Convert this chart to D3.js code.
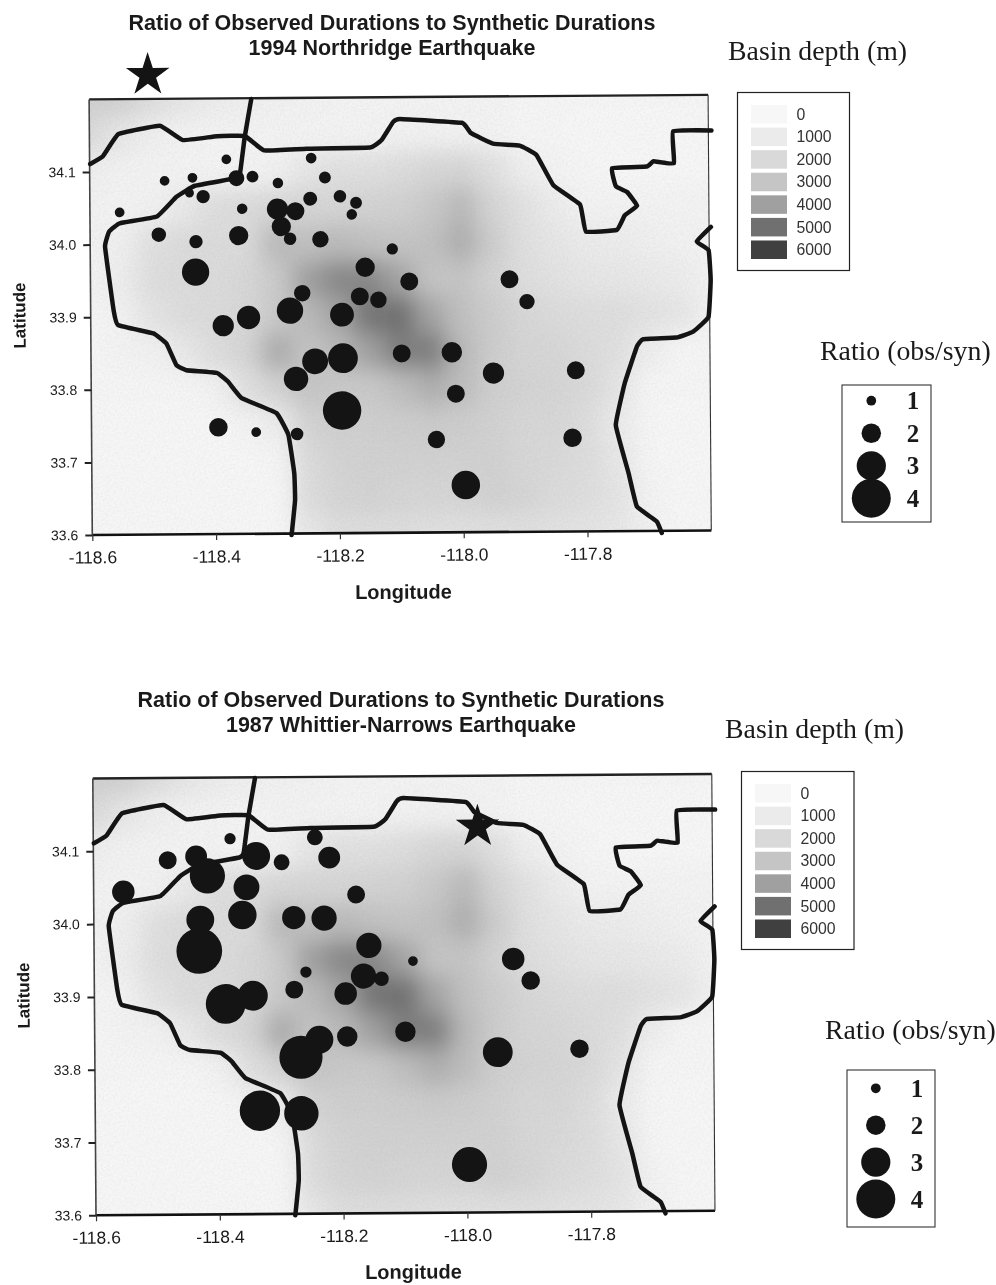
<!DOCTYPE html>
<html>
<head>
<meta charset="utf-8">
<script src="https://cdn.jsdelivr.net/npm/d3@7"></script>
<style>
  html, body { margin: 0; padding: 0; background: #fff; }
  svg { display: block; }
  text { fill: #1a1a1a; }
  .sans { font-family: "Liberation Sans", Arial, sans-serif; }
  .serif { font-family: "Liberation Serif", "Times New Roman", serif; }
</style>
</head>
<body>
<script>
const lonTicks = [-118.6, -118.4, -118.2, -118.0, -117.8]
const latTicks = [33.6, 33.7, 33.8, 33.9, 34.0, 34.1]
const depthLevels = [0, 1000, 2000, 3000, 4000, 5000, 6000]
const depthGreys = [247, 235, 217, 197, 160, 112, 64]
const ratioLevels = [1, 2, 3, 4]

const gridLons = [-118.6, -118.55, -118.5, -118.45, -118.4, -118.35, -118.3, -118.25, -118.2, -118.15, -118.1, -118.05, -118.0, -117.95, -117.9, -117.85, -117.8, -117.75, -117.7, -117.65, -117.6]
const gridLats = [34.2, 34.15, 34.1, 34.05, 34.0, 33.95, 33.9, 33.85, 33.8, 33.75, 33.7, 33.65, 33.6]
const depthGrid = [
    [2500, 2400, 1800, 1300, 900, 700, 500, 400, 300, 300, 300, 300, 300, 300, 200, 200, 200, 200, 200, 200, 200],
    [1900, 1200, 700, 400, 300, 300, 300, 300, 300, 300, 400, 500, 400, 300, 200, 200, 100, 100, 100, 100, 100],
    [700, 400, 300, 300, 300, 300, 500, 1300, 1600, 1600, 1800, 2100, 2200, 1600, 700, 300, 200, 100, 100, 100, 100],
    [400, 300, 500, 1100, 1700, 1900, 2100, 2200, 2200, 2300, 2400, 2800, 3300, 2200, 1500, 900, 300, 300, 300, 300, 300],
    [400, 700, 1600, 1900, 1900, 1900, 3300, 3100, 3300, 3100, 3000, 3100, 3600, 2600, 1600, 1300, 1000, 900, 700, 400, 300],
    [300, 800, 1700, 1900, 1900, 2100, 2700, 4000, 4500, 4500, 3900, 3000, 3000, 2300, 1700, 1500, 1300, 1200, 1100, 900, 400],
    [200, 400, 1400, 1800, 1900, 2100, 2800, 3300, 3900, 4900, 5000, 3900, 3100, 2600, 2100, 1900, 1700, 1700, 1500, 1300, 500],
    [200, 300, 400, 1100, 1800, 2200, 3700, 3000, 3300, 4000, 4700, 4700, 3300, 2600, 2200, 2100, 1900, 1600, 800, 200, 200],
    [200, 200, 200, 200, 400, 1600, 2300, 3000, 2800, 2800, 3200, 3600, 3200, 2500, 2300, 2200, 2000, 1400, 200, 200, 200],
    [100, 100, 100, 100, 100, 300, 800, 2300, 2500, 2500, 2600, 2700, 2600, 2400, 2100, 2100, 1800, 1000, 200, 100, 100],
    [100, 100, 100, 100, 100, 100, 200, 1900, 2300, 2400, 2400, 2400, 2400, 2400, 2100, 2000, 1800, 1200, 200, 100, 100],
    [100, 100, 100, 100, 100, 100, 100, 1800, 2200, 2300, 2200, 2200, 2200, 2400, 2200, 1900, 1700, 1400, 300, 100, 100],
    [100, 100, 100, 100, 100, 100, 100, 1200, 1700, 1700, 1700, 1600, 1600, 1600, 1600, 1500, 1400, 1200, 500, 100, 100]
]

// outlines of the map, lon/lat
const outlineNorth = [[-118.599, 34.111], [-118.578, 34.122], [-118.553, 34.152], [-118.486, 34.163], [-118.449, 34.143], [-118.394, 34.148], [-118.349, 34.148], [-118.318, 34.128], [-118.249, 34.130], [-118.147, 34.131], [-118.128, 34.141], [-118.109, 34.166], [-118.098, 34.170], [-117.998, 34.164], [-117.984, 34.150], [-117.948, 34.135], [-117.905, 34.132], [-117.878, 34.119], [-117.851, 34.077], [-117.808, 34.050], [-117.799, 34.013], [-117.749, 34.015], [-117.736, 34.035], [-117.716, 34.048], [-117.732, 34.067], [-117.750, 34.075], [-117.756, 34.100], [-117.700, 34.102], [-117.689, 34.109], [-117.656, 34.106], [-117.657, 34.150], [-117.595, 34.151]]
const outlineWest = [[-118.338, 34.199], [-118.349, 34.147], [-118.357, 34.097], [-118.364, 34.090], [-118.430, 34.080], [-118.460, 34.065], [-118.492, 34.038], [-118.552, 34.029], [-118.569, 34.018], [-118.576, 33.997], [-118.563, 33.910], [-118.556, 33.889], [-118.499, 33.877], [-118.478, 33.863], [-118.462, 33.833], [-118.446, 33.826], [-118.397, 33.822], [-118.379, 33.810], [-118.357, 33.787], [-118.301, 33.766], [-118.282, 33.736], [-118.273, 33.683], [-118.272, 33.646], [-118.278, 33.598]]
const outlineEast = [[-117.597, 34.018], [-117.620, 33.998], [-117.601, 33.986], [-117.598, 33.945], [-117.602, 33.894], [-117.627, 33.874], [-117.654, 33.866], [-117.708, 33.864], [-117.718, 33.854], [-117.738, 33.804], [-117.753, 33.746], [-117.733, 33.680], [-117.720, 33.634], [-117.688, 33.613], [-117.680, 33.597]]
const outlines = [outlineNorth, outlineWest, outlineEast]

// lon, lat, ratio
const northridgeStations = [
    [-118.379, 34.116, 1.0], [-118.242, 34.117, 1.1], [-118.479, 34.087, 1.0], [-118.434, 34.091, 1.0],
    [-118.439, 34.070, 0.92], [-118.417, 34.065, 1.37], [-118.363, 34.090, 1.63], [-118.337, 34.092, 1.22],
    [-118.296, 34.083, 1.08], [-118.220, 34.090, 1.22], [-118.244, 34.061, 1.43], [-118.196, 34.064, 1.29],
    [-118.170, 34.055, 1.22], [-118.177, 34.039, 1.08], [-118.552, 34.044, 1.0], [-118.354, 34.048, 1.08],
    [-118.297, 34.047, 2.18], [-118.268, 34.044, 1.84], [-118.291, 34.023, 1.98], [-118.277, 34.006, 1.29],
    [-118.228, 34.005, 1.69], [-118.489, 34.013, 1.49], [-118.429, 34.003, 1.37], [-118.360, 34.011, 1.98],
    [-118.112, 33.991, 1.16], [-118.156, 33.966, 1.98], [-118.430, 33.961, 2.8], [-118.258, 33.931, 1.69],
    [-118.165, 33.926, 1.84], [-118.135, 33.921, 1.69], [-118.278, 33.907, 2.71], [-118.194, 33.901, 2.45],
    [-118.345, 33.898, 2.39], [-118.386, 33.887, 2.18], [-118.085, 33.946, 1.84], [-117.923, 33.948, 1.84],
    [-117.895, 33.917, 1.57], [-118.098, 33.847, 1.84], [-118.017, 33.848, 2.1], [-117.950, 33.819, 2.18],
    [-117.817, 33.822, 1.84], [-118.238, 33.837, 2.65], [-118.193, 33.841, 3.06], [-118.269, 33.813, 2.51],
    [-118.195, 33.769, 3.94], [-118.395, 33.747, 1.9], [-118.334, 33.740, 1.0], [-118.268, 33.737, 1.29],
    [-118.011, 33.791, 1.84], [-118.043, 33.728, 1.78], [-117.823, 33.729, 1.9], [-117.996, 33.665, 2.92]
]
const whittierStations = [
    [-118.379, 34.116, 1.16], [-118.242, 34.117, 1.63], [-118.480, 34.087, 1.84], [-118.434, 34.092, 2.24],
    [-118.416, 34.065, 3.61], [-118.337, 34.092, 2.86], [-118.296, 34.083, 1.63], [-118.219, 34.089, 2.24],
    [-118.552, 34.044, 2.31], [-118.176, 34.038, 1.84], [-118.353, 34.049, 2.65], [-118.360, 34.011, 2.92],
    [-118.277, 34.007, 2.39], [-118.228, 34.006, 2.59], [-118.428, 34.005, 2.86], [-118.430, 33.962, 4.69],
    [-118.156, 33.968, 2.59], [-118.258, 33.932, 1.16], [-118.165, 33.926, 2.59], [-118.136, 33.922, 1.49],
    [-118.277, 33.908, 1.84], [-118.194, 33.902, 2.31], [-118.388, 33.889, 4.08], [-118.344, 33.900, 3.06],
    [-118.192, 33.843, 2.1], [-118.237, 33.839, 2.86], [-118.267, 33.815, 4.43], [-118.334, 33.742, 4.14],
    [-118.267, 33.738, 3.53], [-117.923, 33.948, 2.31], [-117.895, 33.918, 1.9], [-118.085, 33.946, 1.0],
    [-118.098, 33.849, 2.1], [-117.949, 33.820, 3.06], [-117.817, 33.824, 1.9], [-117.996, 33.666, 3.61]
]

const panels = [
    {
        id: 'a', left: 92.3, bottom: 535, width: 619, height: 435.6,
        titleLines: ['Ratio of Observed Durations to Synthetic Durations', '1994 Northridge Earthquake'],
        titleX: 392, titleY: 29.5,
        stations: northridgeStations, epicentre: [-118.505, 34.233],
        lonTitleX: 403, lonTitleY: 601, latTitleX: 27, latTitleY: 315,
        depthBox: [737.5, 92.5, 112, 178], depthTitle: [728, 59.5],
        ratioBox: [842, 385, 89, 137], ratioTitle: [820, 360], ratioCx: 871.3, ratioYs: [400.7, 498.3], ratioLabelX: 913
    },
    {
        id: 'b', left: 96, bottom: 1215.3, width: 619, height: 436.8,
        titleLines: ['Ratio of Observed Durations to Synthetic Durations', '1987 Whittier-Narrows Earthquake'],
        titleX: 401, titleY: 707,
        stations: whittierStations, epicentre: [-117.979, 34.130],
        lonTitleX: 413, lonTitleY: 1281, latTitleX: 31, latTitleY: 995,
        depthBox: [741.5, 771.5, 112.5, 178], depthTitle: [725, 738],
        ratioBox: [847, 1070, 88, 157], ratioTitle: [825, 1039], ratioCx: 875.8, ratioYs: [1088.3, 1199], ratioLabelX: 917
    }
]

const tilt = -0.42
const inkColor = '#141414'
const rScale = d3.scaleLinear().domain([0, 4]).range([0, 19.5])
const greyScale = d3.scaleLinear().domain(depthLevels).range(depthGreys)
const depthColor = d => {
    const g = Math.round(greyScale(d))
    return `rgb(${g},${g},${g})`
}

const svg = d3.select('body').append('svg')
    .attr('width', 996)
    .attr('height', 1285)
    .style('filter', 'blur(0.45px)')

const defs = svg.append('defs')
defs.html(`
    <filter id="soften" filterUnits="userSpaceOnUse" x="-100" y="-100" width="1200" height="1500">
        <feGaussianBlur stdDeviation="11"></feGaussianBlur>
    </filter>
    <filter id="grain" filterUnits="userSpaceOnUse" x="0" y="0" width="996" height="1285">
        <feTurbulence type="fractalNoise" baseFrequency="0.55" numOctaves="2" result="noise"></feTurbulence>
        <feColorMatrix values="0 0 0 0 0.3  0 0 0 0 0.3  0 0 0 0 0.3  1.6 0 0 0 -0.62"></feColorMatrix>
    </filter>
`)

const drawPanel = p => {
    const x = d3.scaleLinear().domain([-118.6, -117.6]).range([p.left, p.left + p.width])
    const y = d3.scaleLinear().domain([33.6, 34.2]).range([p.bottom, p.bottom - p.height])
    const line = d3.line().x(d => x(d[0])).y(d => y(d[1])).curve(d3.curveCardinal.tension(0.72))

    const g = svg.append('g')
        .attr('transform', `rotate(${tilt} ${p.left} ${p.bottom})`)

    defs.append('clipPath').attr('id', `frame-${p.id}`)
        .append('rect')
        .attr('x', x(-118.6)).attr('y', y(34.2))
        .attr('width', p.width).attr('height', p.height)

    // shading
    const shade = g.append('g').attr('clip-path', `url(#frame-${p.id})`)
    const cells = depthGrid.flatMap((row, i) => row.map((depth, j) => ({ depth, i, j })))
    const halfW = (x(gridLons[1]) - x(gridLons[0])) / 2
    const halfH = (y(gridLats[1]) - y(gridLats[0])) / 2
    shade.append('g')
        .attr('filter', 'url(#soften)')
        .selectAll('rect')
        .data(cells)
        .join('rect')
        .attr('x', d => x(gridLons[d.j]) - halfW - (d.j === 0 ? 50 : 0))
        .attr('y', d => y(gridLats[d.i]) - halfH - (d.i === 0 ? 50 : 0))
        .attr('width', d => 2 * halfW + 0.5 + (d.j === 0 || d.j === gridLons.length - 1 ? 50 : 0))
        .attr('height', d => 2 * halfH + 0.5 + (d.i === 0 || d.i === gridLats.length - 1 ? 50 : 0))
        .attr('fill', d => depthColor(d.depth))
    shade.append('rect')
        .attr('x', x(-118.6)).attr('y', y(34.2))
        .attr('width', p.width).attr('height', p.height)
        .attr('filter', 'url(#grain)')
        .attr('opacity', 0.13)

    // frame
    g.append('line').attr('x1', x(-118.6)).attr('x2', x(-117.6)).attr('y1', y(34.2)).attr('y2', y(34.2))
        .attr('stroke', '#222').attr('stroke-width', 2.4)
    g.append('line').attr('x1', x(-118.6)).attr('x2', x(-117.6)).attr('y1', y(33.6)).attr('y2', y(33.6))
        .attr('stroke', '#111').attr('stroke-width', 2.6)
    g.append('line').attr('x1', x(-118.6)).attr('x2', x(-118.6)).attr('y1', y(34.2)).attr('y2', y(33.6))
        .attr('stroke', '#444').attr('stroke-width', 1.6)
    g.append('line').attr('x1', x(-117.6)).attr('x2', x(-117.6)).attr('y1', y(34.2)).attr('y2', y(33.6))
        .attr('stroke', '#333').attr('stroke-width', 1.1)

    // axes
    const xAxis = g.append('g')
        .attr('class', 'sans')
        .attr('transform', `translate(0,${p.bottom})`)
        .call(d3.axisBottom(x).tickValues(lonTicks).tickFormat(d3.format('.1f')).tickSize(6).tickPadding(10))
    xAxis.select('.domain').remove()
    xAxis.selectAll('line').attr('stroke', '#333').attr('stroke-width', 1.2)
    xAxis.selectAll('text').attr('font-size', 17.5).style('font-family', '"Liberation Sans", sans-serif').text(d => d3.format('.1f')(d).replace('\u2212', '-'))

    const yAxis = g.append('g')
        .attr('class', 'sans')
        .attr('transform', `translate(${p.left},0)`)
        .call(d3.axisLeft(y).tickValues(latTicks).tickFormat(d3.format('.1f')).tickSize(7).tickPadding(7))
    yAxis.select('.domain').remove()
    yAxis.selectAll('line').attr('stroke', '#222').attr('stroke-width', 2)
    yAxis.selectAll('text').attr('font-size', 14).style('font-family', '"Liberation Sans", sans-serif')

    // outlines
    g.append('g').selectAll('path')
        .data(outlines)
        .join('path')
        .attr('d', line)
        .attr('fill', 'none')
        .attr('stroke', inkColor)
        .attr('stroke-width', 4.5)
        .attr('stroke-linejoin', 'round')
        .attr('stroke-linecap', 'round')

    g.append('g').selectAll('circle')
        .data(p.stations)
        .join('circle')
        .attr('cx', d => x(d[0]))
        .attr('cy', d => y(d[1]))
        .attr('r', d => rScale(d[2]))
        .attr('fill', inkColor)

    g.append('path')
        .attr('d', d3.symbol(d3.symbolStar, 590))
        .attr('transform', `translate(${x(p.epicentre[0])},${y(p.epicentre[1])})`)
        .attr('fill', inkColor)

    g.append('text')
        .attr('class', 'sans')
        .attr('x', p.lonTitleX).attr('y', p.lonTitleY)
        .attr('text-anchor', 'middle')
        .attr('font-size', 20)
        .attr('font-weight', 'bold')
        .text('Longitude')

    g.append('text')
        .attr('class', 'sans')
        .attr('transform', `translate(${p.latTitleX},${p.latTitleY}) rotate(-90)`)
        .attr('text-anchor', 'middle')
        .attr('font-size', 17)
        .attr('font-weight', 'bold')
        .text('Latitude')

    // titles sit level, the tilt would make their boxes collide
    svg.append('g').selectAll('text')
        .data(p.titleLines)
        .join('text')
        .attr('class', 'sans')
        .attr('x', p.titleX)
        .attr('y', (d, i) => p.titleY + i * 25)
        .attr('text-anchor', 'middle')
        .attr('font-size', 21.5)
        .attr('font-weight', 'bold')
        .text(d => d)

    drawDepthLegend(p)
    drawRatioLegend(p)
}

const drawDepthLegend = p => {
    const [bx, by, bw, bh] = p.depthBox
    svg.append('text')
        .attr('class', 'serif')
        .attr('x', p.depthTitle[0]).attr('y', p.depthTitle[1])
        .attr('font-size', 27.8)
        .text('Basin depth (m)')
    svg.append('rect')
        .attr('x', bx).attr('y', by).attr('width', bw).attr('height', bh)
        .attr('fill', '#fff').attr('stroke', '#222').attr('stroke-width', 1.2)

    const rowY = d3.scaleBand().domain(depthLevels).range([by + 12.5, by + 12.5 + 22 * 7]).paddingInner(0.18).paddingOuter(0)
    const rows = svg.append('g').selectAll('g')
        .data(depthLevels)
        .join('g')
        .attr('transform', d => `translate(0,${rowY(d)})`)
    rows.append('rect')
        .attr('x', bx + 13.5)
        .attr('width', 36)
        .attr('height', rowY.bandwidth())
        .attr('fill', depthColor)
    rows.append('text')
        .attr('class', 'sans')
        .attr('x', bx + 59)
        .attr('y', rowY.bandwidth() / 2 + 5.5)
        .attr('font-size', 15.8)
        .style('fill', '#333')
        .text(d => d)
}

const drawRatioLegend = p => {
    const [bx, by, bw, bh] = p.ratioBox
    svg.append('text')
        .attr('class', 'serif')
        .attr('x', p.ratioTitle[0]).attr('y', p.ratioTitle[1])
        .attr('font-size', 27.8)
        .text('Ratio (obs/syn)')
    svg.append('rect')
        .attr('x', bx).attr('y', by).attr('width', bw).attr('height', bh)
        .attr('fill', '#fff').attr('stroke', '#333').attr('stroke-width', 1.1)

    const rowY = d3.scalePoint().domain(ratioLevels).range(p.ratioYs)
    svg.append('g').selectAll('circle')
        .data(ratioLevels)
        .join('circle')
        .attr('cx', p.ratioCx)
        .attr('cy', d => rowY(d))
        .attr('r', d => rScale(d))
        .attr('fill', inkColor)
    svg.append('g').selectAll('text')
        .data(ratioLevels)
        .join('text')
        .attr('class', 'serif')
        .attr('x', p.ratioLabelX)
        .attr('y', d => rowY(d) + 8.5)
        .attr('text-anchor', 'middle')
        .attr('font-size', 25)
        .attr('font-weight', 'bold')
        .text(d => d)
}

panels.forEach(drawPanel)
</script>
</body>
</html>
